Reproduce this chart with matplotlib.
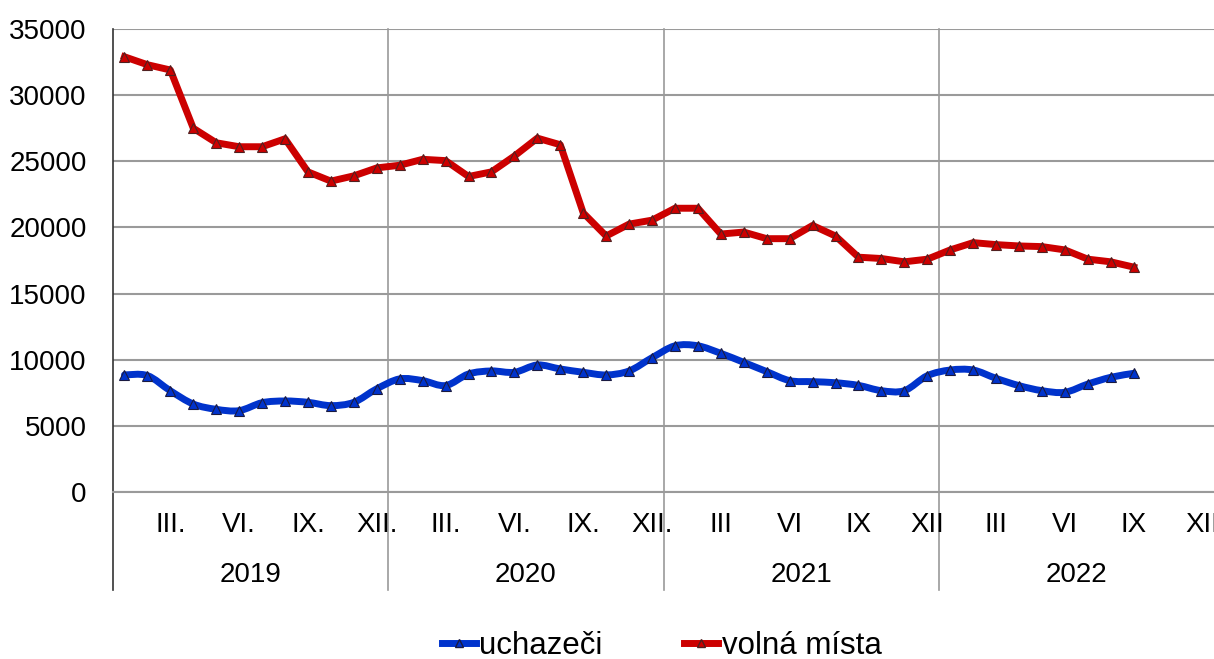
import numpy as np
import matplotlib.pyplot as plt
from matplotlib.path import Path
from matplotlib.patches import PathPatch
from matplotlib.lines import Line2D
import matplotlib.transforms as mtransforms

plt.rcParams['font.family'] = ['Liberation Sans', 'DejaVu Sans']

## data, monthly from I.2019 to IX.2022
years = ["2019", "2020", "2021", "2022"]
month_labels = ["III.", "VI.", "IX.", "XII.", "III.", "VI.", "IX.", "XII.",
                "III", "VI", "IX", "XII", "III", "VI", "IX", "XII"]
uchazeci = [8850, 8800, 7650, 6650, 6250, 6150, 6750, 6880, 6780, 6530, 6780, 7800,
            8550, 8420, 8050, 8920, 9150, 9050, 9600, 9300, 9050, 8850, 9150, 10150,
            11050, 11050, 10480, 9800, 9100, 8420, 8340, 8260, 8060, 7660, 7660, 8790,
            9220, 9220, 8590, 8040, 7660, 7540, 8160, 8670, 8970]
volna_mista = [32900, 32300, 31900, 27500, 26400, 26100, 26100, 26700, 24200, 23500, 23900, 24500,
               24700, 25150, 25050, 23850, 24200, 25400, 26750, 26250, 21100, 19350, 20250, 20550,
               21450, 21450, 19500, 19650, 19150, 19150, 20150, 19350, 17750, 17650, 17400, 17600,
               18300, 18850, 18700, 18600, 18550, 18300, 17600, 17400, 17000]

blue = '#0033CC'
red = '#CC0000'
FS = 20


def smooth_path(x, y):
    ## bezier path through the points (like the smoothed line in excel)
    pts = np.column_stack([x, y]).astype(float)
    n = len(pts)
    verts = [pts[0]]
    codes = [Path.MOVETO]
    for i in range(n - 1):
        p0 = pts[i - 1] if i > 0 else pts[i]
        p1 = pts[i]
        p2 = pts[i + 1]
        p3 = pts[i + 2] if i + 2 < n else pts[i + 1]
        verts += [p1 + (p2 - p0) / 6.0, p2 - (p3 - p1) / 6.0, p2]
        codes += [Path.CURVE4, Path.CURVE4, Path.CURVE4]
    return Path(verts, codes)


fig = plt.figure(figsize=(12.14, 6.59), dpi=100)
ax = fig.add_axes([113 / 1214, 1 - 492 / 659, 1 - 113 / 1214, (492 - 29) / 659])

x = np.arange(len(uchazeci))

## blue smoothed line
ax.add_patch(PathPatch(smooth_path(x, uchazeci), facecolor='none', edgecolor=blue,
                       lw=5, capstyle='round', joinstyle='round', zorder=3))
ax.plot(x, uchazeci, ls='none', marker='^', ms=7, mfc=blue, mec='#1a1a40', mew=0.8, zorder=4)

## red line
ax.plot(x, volna_mista, color=red, lw=5, marker='^', ms=7, mfc=red, mec='#502020',
        mew=0.8, solid_joinstyle='round', zorder=4)

ax.set_xlim(-0.5, 47.5)
ax.set_ylim(0, 35000)
ax.set_yticks(np.arange(0, 35001, 5000))
ax.tick_params(axis='y', labelsize=FS, length=0, pad=19)
ax.set_xticks([])
ax.yaxis.grid(True, color='#9a9a9a', lw=1.5)
ax.set_axisbelow(True)

for s in ['top', 'right']:
    ax.spines[s].set_visible(False)
ax.spines['bottom'].set_color('#9a9a9a')
ax.spines['bottom'].set_linewidth(1.5)
ax.spines['left'].set_visible(False)

trans = mtransforms.blended_transform_factory(ax.transData, ax.transAxes)

## year separators and left line going below the axis
ax.plot([-0.5, -0.5], [1, -0.212], transform=trans, color='#333333', lw=1.2, clip_on=False)
for b in [11.5, 23.5, 35.5]:
    ax.plot([b, b], [1, -0.212], transform=trans, color='#9a9a9a', lw=1.2, clip_on=False, zorder=1)

## month labels
month_pos = [m + 12 * k for k in range(4) for m in [2, 5, 8, 11]]
for pos, lab in zip(month_pos, month_labels):
    ax.text(pos, -0.071, lab, transform=trans, ha='center', va='center', fontsize=FS)

## year labels
for k, yr in enumerate(years):
    ax.text(5.5 + 12 * k, -0.179, yr, transform=trans, ha='center', va='center', fontsize=FS)

handles = [Line2D([], [], color=blue, lw=5, marker='^', ms=6, mfc=blue, mec='#1a1a40'),
           Line2D([], [], color=red, lw=5, marker='^', ms=6, mfc=red, mec='#502020')]
fig.legend(handles, ['uchazeči', 'volná místa'], loc='lower center', bbox_to_anchor=(0.545, -0.045),
           ncol=2, frameon=False, fontsize=22.5, handlelength=1.1, handletextpad=0.1, columnspacing=2.6)

fig.savefig('out.png', dpi=100)
